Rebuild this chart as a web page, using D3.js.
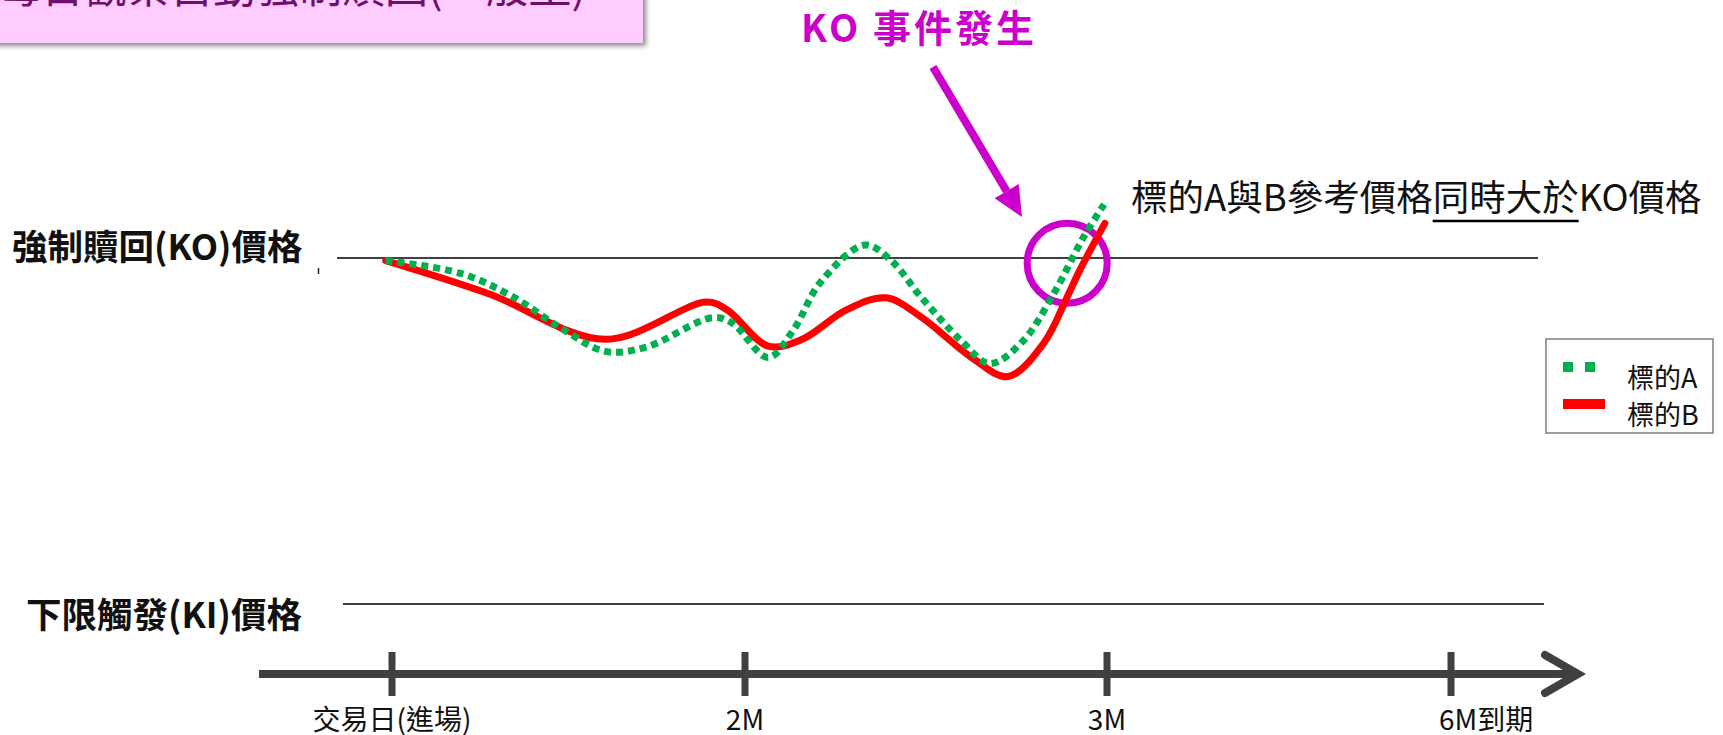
<!DOCTYPE html>
<html>
<head>
<meta charset="utf-8">
<script src="https://cdn.jsdelivr.net/npm/d3@7/dist/d3.min.js"></script>
<style>
  body { margin: 0; background: #fff; }
  svg { display: block; font-family: "Noto Sans CJK TC", "Noto Sans", sans-serif; }
</style>
</head>
<body>
<svg id="chart" width="1723" height="735"></svg>
<script>
// timeline ticks (index positions on the time axis)
const tickLabels = ["交易日(進場)", "2M", "3M", "6M到期"];
const tickIndex = [0, 1, 2, 3];

// price levels
const levelNames = ["強制贖回(KO)價格", "下限觸發(KI)價格"];
const levelValues = [100, 60];

const seriesNames = ["標的A", "標的B"];

// 標的A (dotted green): time index / price
const timeA = [-0.018, 0.197, 0.343, 0.486, 0.605, 0.72, 0.907, 0.963, 1.064, 1.134, 1.207, 1.331, 1.404, 1.486, 1.598, 1.677, 1.768, 1.853, 1.935, 1.992];
const priceA = [99.7, 98.2, 95.5, 91.7, 89.2, 89.7, 93.1, 92.5, 88.5, 91.7, 97.1, 101.5, 99.7, 95.5, 90.4, 87.8, 90.4, 95.9, 102.4, 106.2];

// 標的B (solid red)
const timeB = [-0.018, 0.272, 0.605, 0.891, 0.95, 1.064, 1.158, 1.28, 1.389, 1.486, 1.626, 1.726, 1.826, 1.89, 1.925, 1.994];
const priceB = [99.7, 95.9, 90.6, 94.9, 94.0, 89.8, 90.6, 94.0, 95.4, 93.2, 88.5, 86.3, 90.2, 95.5, 98.6, 104.0];

// KO event marker
const koEvent = { t: 1.89, price: 99.4 };

const titleText = "每日觀察自動強制贖回(一般型)";
const eventText = "KO 事件發生";
const noteText = "標的A與B參考價格同時大於KO價格";
const noteUnderline = "同時大於";

const MAGENTA = "#CC00CC";
const GREEN = "#00B050";
const RED = "#FF0000";
const AXIS = "#404040";

const svg = d3.select("#chart");

const x = d3.scaleLinear().domain(tickIndex).range([392, 745, 1107, 1451]);
const y = d3.scaleLinear().domain([60, 100]).range([604, 258]);

// title box (cut off at the top)
const defs = svg.append("defs");
const shadow = defs.append("filter").attr("id", "shadow").attr("x", "-5%").attr("y", "-50%").attr("width", "110%").attr("height", "200%");
shadow.append("feDropShadow").attr("dx", 3).attr("dy", 3).attr("stdDeviation", 2.5).attr("flood-color", "#000").attr("flood-opacity", 0.45);

svg.append("rect")
  .attr("x", -10).attr("y", -20).attr("width", 653).attr("height", 63)
  .attr("fill", "#FFCCFF").attr("filter", "url(#shadow)");
svg.append("text")
  .attr("x", -2).attr("y", 3)
  .attr("font-size", 43).attr("fill", "#6E0F6E")
  .text(titleText);

// level lines + labels
const levelG = svg.append("g");
levelValues.forEach((v, i) => {
  levelG.append("line")
    .attr("x1", x(0) - (i === 0 ? 55 : 49)).attr("x2", x(3) + (i === 0 ? 87 : 93))
    .attr("y1", y(v)).attr("y2", y(v))
    .attr("stroke", AXIS).attr("stroke-width", 2.2);
  levelG.append("text")
    .attr("x", i === 0 ? 12 : 26).attr("y", y(v) + (i === 0 ? 2 : 24))
    .attr("font-size", 35.5).attr("font-weight", 700).attr("fill", "#111")
    .text(levelNames[i]);
});
// small stray mark next to KO label
svg.append("line")
  .attr("x1", 318.5).attr("x2", 318.5).attr("y1", y(100) + 10).attr("y2", y(100) + 16)
  .attr("stroke", "#222").attr("stroke-width", 1.5);

// KO circle
svg.append("circle")
  .attr("cx", x(koEvent.t)).attr("cy", y(koEvent.price)).attr("r", 40)
  .attr("fill", "none").attr("stroke", MAGENTA).attr("stroke-width", 7);

// series
const line = d3.line()
  .x((d) => x(d[0])).y((d) => y(d[1]))
  .curve(d3.curveCatmullRom.alpha(0.5));

svg.append("path")
  .datum(timeB.map((t, i) => [t, priceB[i]]))
  .attr("d", line).attr("fill", "none")
  .attr("stroke", RED).attr("stroke-width", 7).attr("stroke-linecap", "round").attr("stroke-linejoin", "round");

svg.append("path")
  .datum(timeA.map((t, i) => [t, priceA[i]]))
  .attr("d", line).attr("fill", "none")
  .attr("stroke", GREEN).attr("stroke-width", 7).attr("stroke-dasharray", "7 5");

// event label + arrow
svg.append("text")
  .attr("x", 919).attr("y", 42).attr("text-anchor", "middle")
  .attr("font-size", 38).attr("font-weight", 700).attr("fill", MAGENTA)
  .attr("letter-spacing", 3)
  .text(eventText);

const ax0 = [933, 67], ax1 = [1022, 217];
const ang = Math.atan2(ax1[1] - ax0[1], ax1[0] - ax0[0]);
const headLen = 30, headW = 14;
const base = [ax1[0] - headLen * Math.cos(ang), ax1[1] - headLen * Math.sin(ang)];
svg.append("line")
  .attr("x1", ax0[0]).attr("y1", ax0[1]).attr("x2", base[0]).attr("y2", base[1])
  .attr("stroke", MAGENTA).attr("stroke-width", 8);
svg.append("path")
  .attr("d", d3.line()([
    ax1,
    [base[0] + headW * Math.sin(ang), base[1] - headW * Math.cos(ang)],
    [base[0] - headW * Math.sin(ang), base[1] + headW * Math.cos(ang)],
  ]) + "Z")
  .attr("fill", MAGENTA);

// note with underlined part
const note = svg.append("text")
  .attr("x", 1131).attr("y", 211)
  .attr("font-size", 36.5).attr("fill", "#111")
  .text(noteText);
const uStart = noteText.indexOf(noteUnderline);
const nNode = note.node();
const ux0 = 1131 + nNode.getSubStringLength(0, uStart);
const ux1 = ux0 + nNode.getSubStringLength(uStart, noteUnderline.length);
svg.append("line")
  .attr("x1", ux0).attr("x2", ux1).attr("y1", 221).attr("y2", 221)
  .attr("stroke", "#000").attr("stroke-width", 2.5);

// time axis
const axisY = 674;
const axisG = svg.append("g").attr("stroke", AXIS).attr("stroke-width", 8).attr("fill", "none");
axisG.append("line").attr("x1", 259).attr("x2", 1578).attr("y1", axisY).attr("y2", axisY);
axisG.append("path")
  .attr("d", d3.line()([[1545, axisY - 19], [1578, axisY], [1545, axisY + 19]]))
  .attr("stroke-linecap", "round").attr("stroke-linejoin", "miter");
axisG.selectAll("line.tick").data(tickIndex).join("line").attr("class", "tick")
  .attr("x1", (d) => x(d)).attr("x2", (d) => x(d))
  .attr("y1", axisY - 22).attr("y2", axisY + 22)
  .attr("stroke-width", 7);

svg.selectAll("text.tick-label").data(tickIndex).join("text").attr("class", "tick-label")
  .attr("x", (d) => x(d) + (d === 3 ? -12 : 0))
  .attr("y", 730)
  .attr("text-anchor", (d) => (d === 3 ? "start" : "middle"))
  .attr("font-size", 28).attr("fill", "#111")
  .text((d) => tickLabels[d]);

// legend
const lg = svg.append("g");
lg.append("rect").attr("x", 1546).attr("y", 339).attr("width", 167).attr("height", 94)
  .attr("fill", "#fff").attr("stroke", "#7f7f7f").attr("stroke-width", 1.5);
lg.append("line").attr("x1", 1563).attr("x2", 1595).attr("y1", 367).attr("y2", 367)
  .attr("stroke", GREEN).attr("stroke-width", 10).attr("stroke-dasharray", "10 12");
lg.append("line").attr("x1", 1563).attr("x2", 1605).attr("y1", 404).attr("y2", 404)
  .attr("stroke", RED).attr("stroke-width", 10);
seriesNames.forEach((n, i) => {
  lg.append("text").attr("x", 1627).attr("y", 388 + i * 37)
    .attr("font-size", 27).attr("fill", "#111").text(n);
});
</script>
</body>
</html>
